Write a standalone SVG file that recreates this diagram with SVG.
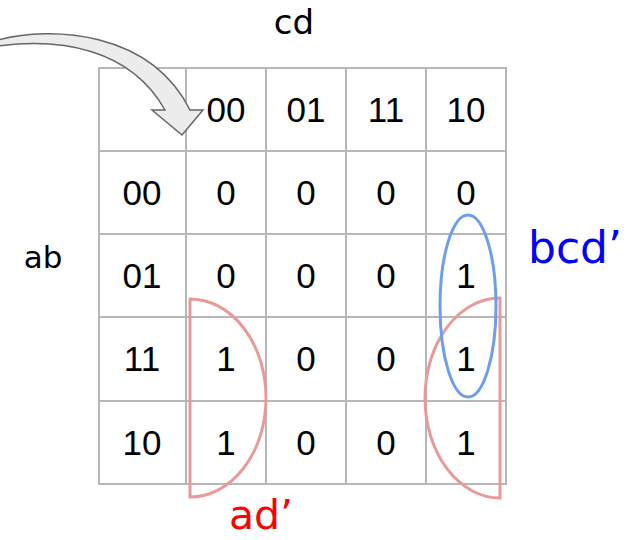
<svg xmlns="http://www.w3.org/2000/svg" width="631" height="540" viewBox="0 0 631 540">
  <style>
    .grid { fill: none; stroke: #b7b7b7; stroke-width: 2; }
    .cell { font-family: "Liberation Sans", Arial, sans-serif; font-size: 35px; fill: #000; text-anchor: middle; }
    .axis { font-family: "DejaVu Sans", Verdana, sans-serif; fill: #000; text-anchor: middle; }
    .term { font-family: "DejaVu Sans", Verdana, sans-serif; text-anchor: middle; }
    .red-loop { fill: none; stroke: #ea9999; stroke-width: 3; }
    .blue-loop { fill: none; stroke: #6d9eeb; stroke-width: 3; }
  </style>

  <rect width="631" height="540" fill="#ffffff"/>

  <!-- K-map grid -->
  <g id="kmap-grid" class="grid">
    <rect x="99" y="68" width="407" height="416"/>
    <line x1="186" y1="68" x2="186" y2="484"/>
    <line x1="266" y1="68" x2="266" y2="484"/>
    <line x1="346" y1="68" x2="346" y2="484"/>
    <line x1="426" y1="68" x2="426" y2="484"/>
    <line x1="99" y1="151" x2="506" y2="151"/>
    <line x1="99" y1="234" x2="506" y2="234"/>
    <line x1="99" y1="317" x2="506" y2="317"/>
    <line x1="99" y1="401" x2="506" y2="401"/>
  </g>

  <!-- axis labels -->
  <g id="label-cd"><text class="axis" x="294" y="34" font-size="34">cd</text></g>
  <g id="label-ab"><text class="axis" x="43" y="268" font-size="31">ab</text></g>

  <!-- column headers -->
  <g id="col-headers" class="cell">
    <text x="226" y="122">00</text>
    <text x="306" y="122">01</text>
    <text x="386" y="122">11</text>
    <text x="466" y="122">10</text>
  </g>

  <!-- row headers -->
  <g id="row-headers" class="cell">
    <text x="142" y="205">00</text>
    <text x="142" y="288">01</text>
    <text x="142" y="371">11</text>
    <text x="142" y="455">10</text>
  </g>

  <!-- cell values -->
  <g id="cells" class="cell">
    <text x="226" y="205">0</text><text x="306" y="205">0</text><text x="386" y="205">0</text><text x="466" y="205">0</text>
    <text x="226" y="288">0</text><text x="306" y="288">0</text><text x="386" y="288">0</text><text x="466" y="288">1</text>
    <text x="226" y="371">1</text><text x="306" y="371">0</text><text x="386" y="371">0</text><text x="466" y="371">1</text>
    <text x="226" y="455">1</text><text x="306" y="455">0</text><text x="386" y="455">0</text><text x="466" y="455">1</text>
  </g>

  <!-- curved arrow pointing into the corner cell -->
  <g id="corner-arrow">
    <path d="M -2,40 C 50,26 150,30 190,110 L 203,110 L 182,135 L 152,110 L 165,110 C 130,48 60,38 -2,46 Z"
          fill="#ececec" stroke="#666666" stroke-width="1.5" stroke-linejoin="miter"/>
  </g>

  <!-- groupings -->
  <g id="loop-ad-left"><path class="red-loop" d="M 190,299 A 76,99 0 0 1 190,497 Z"/></g>
  <g id="loop-ad-right"><path class="red-loop" d="M 500,298 A 75,100 0 0 0 500,498 Z"/></g>
  <g id="loop-bcd"><ellipse class="blue-loop" cx="468" cy="306" rx="28" ry="91"/></g>

  <!-- term labels -->
  <g id="term-bcd"><text class="term" x="575" y="263" font-size="44" fill="#0000ff">bcd’</text></g>
  <g id="term-ad"><text class="term" x="261" y="529" font-size="41" fill="#ff0000">ad’</text></g>
</svg>
